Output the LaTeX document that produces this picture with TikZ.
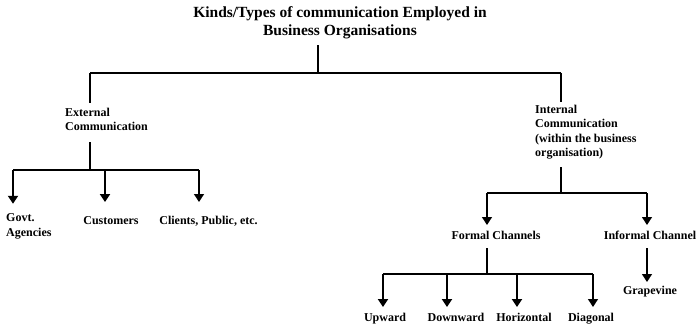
\documentclass[tikz,border=0pt]{standalone}
\usepackage{fontspec}
\setmainfont{Liberation Serif}
\usetikzlibrary{arrows.meta}
\begin{document}
\begin{tikzpicture}[x=1pt,y=-1pt,
  lbl/.style={inner sep=0pt,font=\bfseries\fontsize{12}{14.5}\selectfont,align=left},
  one/.style={inner sep=0pt,font=\bfseries\fontsize{12}{14.5}\selectfont,anchor=base},
  ttl/.style={inner sep=0pt,font=\bfseries\fontsize{15.5}{18}\selectfont,align=center},
  ln/.style={line width=1.3pt},
  thk/.style={line width=2pt},
  tip/.style={-{Triangle[width=10pt,length=8pt]}},
  arthick/.style={tip,line width=2.4pt},
  arthin/.style={tip,line width=1.3pt}]
\useasboundingbox (0,0) rectangle (698,326);
% nodes
\node[ttl] (title) at (340,23) {Kinds/Types of communication Employed in\\Business Organisations};
\node[lbl,anchor=west] (ext) at (65,119.5) {External\\Communication};
\node[lbl,anchor=west] (int) at (535,132) {Internal\\Communication\\(within the business\\organisation)};
\node[lbl,anchor=west] (govt) at (6,226.5) {Govt.\\Agencies};
\node[one] (cust) at (111,224) {Customers};
\node[one] (clients) at (208.5,224) {Clients, Public, etc.};
\node[one] (formal) at (496,239) {Formal Channels};
\node[one] (informal) at (650,239) {Informal Channel};
\node[one] (grape) at (650,294) {Grapevine};
\node[one] (up) at (385,321) {Upward};
\node[one] (down) at (456,321) {Downward};
\node[one] (horiz) at (524,321) {Horizontal};
\node[one] (diag) at (591,321) {Diagonal};
% junctions
\coordinate (a0) at (318,73);
\coordinate (aL) at (90,73);
\coordinate (aR) at (561,73);
\coordinate (e0) at (90,170);
\coordinate (e1) at (13,170);
\coordinate (e2) at (105,170);
\coordinate (e3) at (199,170);
\coordinate (i0) at (561,193);
\coordinate (i1) at (487,193);
\coordinate (i2) at (647,193);
\coordinate (f0) at (487,274);
\coordinate (f1) at (383,274);
\coordinate (f2) at (447,274);
\coordinate (f3) at (517,274);
\coordinate (f4) at (593,274);
% top level
\draw[ln] ([yshift=-6pt]title.south -| a0) -- (a0);
\draw[ln] (aL) -- (aR);
\draw[ln] (aL) -- ([yshift=5pt]ext.north -| aL);
\draw[ln] (aR) -- ([yshift=3pt]int.north -| aR);
% external
\draw[thk] ([yshift=-11pt]ext.south -| e0) -- (e0);
\draw[thk] (e1) -- (e3);
\draw[arthick] (e1) -- ([yshift=10pt]govt.north -| e1);
\draw[arthick] (e2) -- ([yshift=22pt]cust.base -| e2);
\draw[arthin] (e3) -- ([yshift=22pt]clients.base -| e3);
% internal
\draw[ln] ([yshift=-8pt]int.south -| i0) -- (i0);
\draw[ln] (i1) -- (i2);
\draw[arthin] (i1) -- ([yshift=14pt]formal.base -| i1);
\draw[arthin] (i2) -- ([yshift=14pt]informal.base -| i2);
% formal
\draw[ln] ([yshift=-9pt]formal.base -| f0) -- (f0);
\draw[thk] (f1) -- (f4);
\draw[arthick] (f1) -- ([yshift=14pt]up.base -| f1);
\draw[arthick] (f2) -- ([yshift=14pt]down.base -| f2);
\draw[arthick] (f3) -- ([yshift=14pt]horiz.base -| f3);
\draw[arthin] (f4) -- ([yshift=14pt]diag.base -| f4);
% informal
\draw[arthin] ([yshift=-9pt]informal.base -| i2) -- ([yshift=12pt]grape.base -| i2);
\end{tikzpicture}
\end{document}
